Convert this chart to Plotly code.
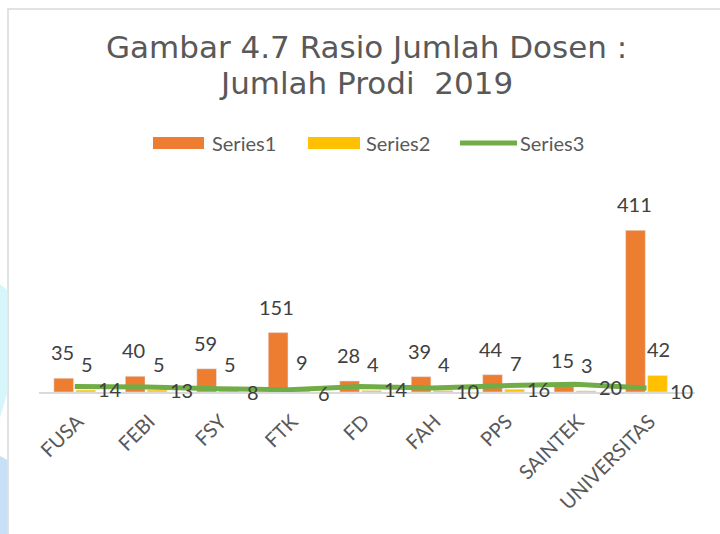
import plotly.graph_objects as go

categories = ["FUSA", "FEBI", "FSY", "FTK", "FD", "FAH", "PPS", "SAINTEK", "UNIVERSITAS"]
series1 = [35, 40, 59, 151, 28, 39, 44, 15, 411]
series2 = [5, 5, 5, 9, 4, 4, 7, 3, 42]
series3 = [14, 13, 8, 6, 14, 10, 16, 20, 10]
series_names = ["Series1", "Series2", "Series3"]
title_lines = ["Gambar 4.7 Rasio Jumlah Dosen :", "Jumlah Prodi  2019"]

C1, C2, C3 = "#ED7D31", "#FFC000", "#70AD47"
TXT = "#595959"
LBL = "#404040"
FONT = "Lato, 'Open Sans', sans-serif"
TFONT = "'DejaVu Sans', Verdana, sans-serif"

W, H = 720, 534
L, R, T, B = 39, 25, 215, 142
pw, ph = W - L - R, H - T - B


def px(x):
    return (x - L) / pw


def py(y):
    return (H - B - y) / ph


fig = go.Figure()
fig.add_bar(x=categories, y=series1, name=series_names[0], marker=dict(color=C1))
fig.add_bar(x=categories, y=series2, name=series_names[1], marker=dict(color=C2))
fig.add_scatter(x=categories, y=series3, mode="lines", name=series_names[2],
                line=dict(color=C3, width=5))

ann = []
for c, v in zip(categories, series1):
    ann.append(dict(x=c, y=v, text=str(v), showarrow=False, xshift=-12.4, yshift=12,
                    yanchor="bottom", font=dict(size=20, color=LBL, family=FONT)))
for c, v in zip(categories, series2):
    ann.append(dict(x=c, y=v, text=str(v), showarrow=False, xshift=12.4, yshift=12,
                    yanchor="bottom", font=dict(size=20, color=LBL, family=FONT)))
for c, v in zip(categories, series3):
    ann.append(dict(x=c, y=v, text=str(v), showarrow=False, xshift=35, yshift=-3,
                    yanchor="middle", font=dict(size=20, color=LBL, family=FONT)))

# title (two lines)
for txt, yc in zip(title_lines, [47, 83]):
    ann.append(dict(xref="paper", yref="paper", x=px(366), y=py(yc), text=txt,
                    showarrow=False, xanchor="center", yanchor="middle",
                    font=dict(size=31, color=TXT, family=TFONT)))

# manual legend
shapes = []
leg_y = 143
swatches = [(153, 204), (308, 360), (460, 517)]
text_x = [210, 364, 518]
for i, (x0, x1) in enumerate(swatches):
    if i < 2:
        shapes.append(dict(type="rect", xref="paper", yref="paper",
                           x0=px(x0), x1=px(x1), y0=py(leg_y - 6), y1=py(leg_y + 6),
                           fillcolor=[C1, C2][i], line=dict(width=0)))
    else:
        shapes.append(dict(type="line", xref="paper", yref="paper",
                           x0=px(x0), x1=px(x1), y0=py(leg_y), y1=py(leg_y),
                           line=dict(color=C3, width=5)))
    ann.append(dict(xref="paper", yref="paper", x=px(text_x[i]), y=py(leg_y),
                    text=series_names[i], showarrow=False, xanchor="left", yanchor="middle",
                    font=dict(size=20, color=TXT, family=FONT)))

# chart border
shapes.append(dict(type="rect", xref="paper", yref="paper", layer="below",
                   x0=px(8), x1=px(760), y0=py(9), y1=py(560),
                   line=dict(color="#D9D9D9", width=1.5), fillcolor="rgba(0,0,0,0)"))
# page decoration at left edge
shapes.append(dict(type="path", xref="paper", yref="paper", layer="below",
                   path="M {} {} L {} {} L {} {} L {} {} Z".format(
                       px(-2), py(283), px(7.5), py(290), px(7.5), py(392), px(-2), py(425)),
                   fillcolor="#D6F6FC", line=dict(width=0)))
shapes.append(dict(type="path", xref="paper", yref="paper", layer="below",
                   path="M {} {} L {} {} L {} {} L {} {} Z".format(
                       px(-2), py(455), px(7.5), py(460), px(7.5), py(540), px(-2), py(540)),
                   fillcolor="#C8E0F6", line=dict(width=0)))

fig.update_layout(
    width=W, height=H,
    margin=dict(l=L, r=R, t=T, b=B, autoexpand=False),
    paper_bgcolor="white", plot_bgcolor="white",
    showlegend=False,
    barmode="group", bargap=0.383, bargroupgap=0.107,
    font=dict(family=FONT, color=TXT),
    annotations=ann, shapes=shapes,
    xaxis=dict(showline=True, linecolor="#D9D9D9", linewidth=2, ticks="",
               tickangle=-45, tickfont=dict(size=20, color=TXT, family=FONT),
               ticklabelstandoff=8, ticklabelshift=3, automargin=False,
               showgrid=False, zeroline=False),
    yaxis=dict(visible=False, range=[0, 450], showgrid=False, zeroline=False,
               automargin=False),
)

fig.write_html("out.html", config={"displayModeBar": False},
               post_script="document.body.style.margin='0';document.body.style.padding='0';")
